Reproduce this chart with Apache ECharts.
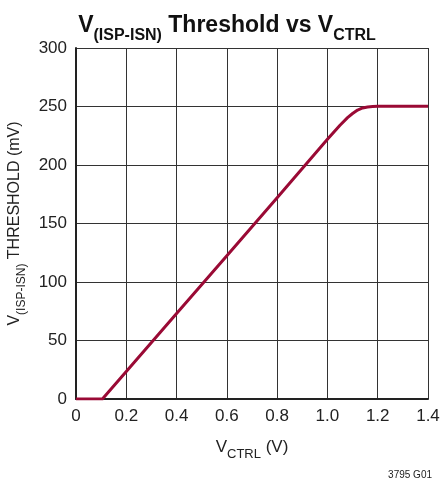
<!DOCTYPE html>
<html><head><meta charset="utf-8">
<script src="https://cdn.jsdelivr.net/npm/echarts@6/dist/echarts.min.js"></script>
<style>html,body{margin:0;padding:0;background:#fff}#c{width:440px;height:485px}</style>
</head><body><div id="c"></div>
<script>
const vctrl = [0, 0.105, 0.2, 0.4, 0.6, 0.8, 1.0, 1.05, 1.08, 1.1, 1.12, 1.14, 1.16, 1.18, 1.2, 1.3, 1.4];
const threshold = [0, 0, 23.5, 73, 122.5, 172, 222, 234, 240.5, 244, 247, 248.8, 249.6, 250, 250.2, 250.3, 250.3];
const xTicks = [0, 0.2, 0.4, 0.6, 0.8, 1.0, 1.2, 1.4];
const yTicks = [0, 50, 100, 150, 200, 250, 300];

const FONT = '"Liberation Sans Narrow","Liberation Sans",Arial,sans-serif';
const chart = echarts.init(document.getElementById('c'));
chart.setOption({
  animation: false,
  title: {
    text: '{v|V}{s|(ISP-ISN)}{v| Threshold vs V}{s|CTRL}',
    left: 222, textAlign: 'center', top: 4,
    textStyle: {
      rich: {
        v: {fontFamily: FONT, fontWeight: 'bold', fontSize: 23, color: '#111', verticalAlign: 'bottom', lineHeight: 28},
        s: {fontFamily: FONT, fontWeight: 'bold', fontSize: 16, color: '#111', verticalAlign: 'bottom', lineHeight: 22, padding: [0,0,-7,0]}
      }
    }
  },
  grid: {left: 76, right: 12, top: 48, bottom: 86, containLabel: false, outerBoundsMode: 'none'},
  xAxis: {
    type: 'value', min: 0, max: 1.4, interval: 0.2,
    axisLine: {show: true, lineStyle: {color: '#222', width: 2}},
    axisTick: {show: false},
    splitLine: {show: true, lineStyle: {color: '#333', width: 1}},
    axisLabel: {fontFamily: FONT, fontSize: 17, color: '#222', margin: 9,
      formatter: v => { const r = Math.round(v*10)/10; return xTicks.indexOf(r) < 0 ? '' : (r === 0 ? '0' : r.toFixed(1)); }},
    name: '{v|V}{s|CTRL}{v| (V)}', nameLocation: 'middle', nameGap: 36,
    nameTextStyle: {rich: {
      v: {fontFamily: FONT, fontSize: 17, color: '#222', verticalAlign: 'bottom', lineHeight: 21},
      s: {fontFamily: FONT, fontSize: 13, color: '#222', verticalAlign: 'bottom', lineHeight: 17, padding: [0,0,-5,0]}
    }}
  },
  yAxis: {
    type: 'value', min: 0, max: 300, interval: 50,
    axisLine: {show: true, lineStyle: {color: '#222', width: 2}},
    axisTick: {show: false},
    splitLine: {show: true, lineStyle: {color: '#333', width: 1}},
    axisLabel: {fontFamily: FONT, fontSize: 17, color: '#222', margin: 9,
      formatter: v => yTicks.indexOf(v) < 0 ? '' : String(v)},
    name: '{v|V}{s|(ISP-ISN)}{v| THRESHOLD (mV)}', nameLocation: 'middle', nameGap: 52, nameRotate: 90,
    nameTextStyle: {rich: {
      v: {fontFamily: FONT, fontSize: 16, color: '#222', verticalAlign: 'bottom', lineHeight: 20},
      s: {fontFamily: FONT, fontSize: 12, color: '#222', verticalAlign: 'bottom', lineHeight: 16, padding: [0,0,-5,0]}
    }}
  },
  series: [{
    type: 'line', data: vctrl.map((x, i) => [x, threshold[i]]),
    showSymbol: false, smooth: false, clip: true,
    lineStyle: {color: '#9a0a35', width: 3, join: 'round'}
  }],
  graphic: [{
    type: 'text', right: 8, top: 470,
    style: {text: '3795 G01', fontFamily: FONT, fontSize: 10, fill: '#222'}
  }]
});
</script></body></html>
